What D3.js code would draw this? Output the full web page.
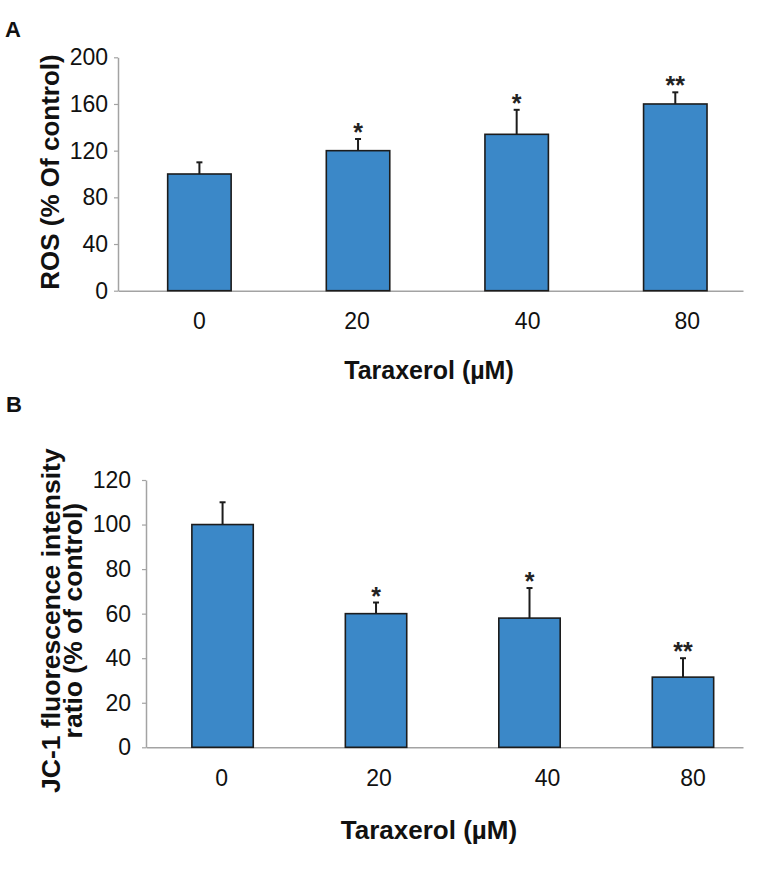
<!DOCTYPE html>
<html>
<head>
<meta charset="utf-8">
<script src="https://cdn.jsdelivr.net/npm/d3@7"></script>
<style>
  body { margin: 0; background: #fff; }
  svg { display: block; font-family: "Liberation Sans", Arial, sans-serif; }
</style>
</head>
<body>
<div id="chart"></div>
<script>
// Concentraciones (eje X)
const doses = ['0', '20', '40', '80'];

// Panel A - ROS
const rosMean = [100, 120, 134, 160];
const rosErr = [10, 10, 21, 10];
const rosSig = ['', '*', '*', '**'];
const rosTicks = [0, 40, 80, 120, 160, 200];

// Panel B - JC-1
const jcMean = [100, 60, 58, 31.5];
const jcErr = [10, 5, 13.5, 8.5];
const jcSig = ['', '*', '*', '**'];
const jcTicks = [0, 20, 40, 60, 80, 100, 120];

const BAR_FILL = '#3b88c8';
const INK = '#1c1c1c';
const AXIS = '#a3a3a3';

const svg = d3.select('#chart')
    .append('svg')
    .attr('width', 771)
    .attr('height', 888);

// Dibuja un panel
function drawPanel(cfg) {
    const g = svg.append('g');

    const x = d3.scaleBand()
        .domain(doses)
        .range([cfg.left, cfg.right])
        .paddingInner(0.6)
        .paddingOuter(cfg.outer)
        .align(cfg.align);

    const y = d3.scaleLinear()
        .domain([0, d3.max(cfg.ticks)])
        .range([cfg.bottom, cfg.top]);

    // eje Y
    const yAxis = g.append('g')
        .attr('transform', `translate(${cfg.left},0)`)
        .call(d3.axisLeft(y).tickValues(cfg.ticks).tickSize(4).tickSizeOuter(0).tickPadding(cfg.tickPad));
    yAxis.select('.domain').attr('stroke', AXIS).attr('stroke-width', 1.5);
    yAxis.selectAll('.tick line').attr('stroke', AXIS).attr('stroke-width', 1.2);
    yAxis.selectAll('.tick text')
        .attr('fill', '#111')
        .attr('font-size', 23)
        .attr('font-family', '"Liberation Sans", Arial, sans-serif');

    // eje X
    const xAxis = g.append('g')
        .attr('transform', `translate(0,${y(0)})`)
        .call(d3.axisBottom(x).tickSize(0).tickSizeOuter(0).tickPadding(cfg.xPad));
    xAxis.select('.domain').attr('stroke', AXIS).attr('stroke-width', 1.5);
    xAxis.selectAll('.tick text')
        .attr('fill', '#111')
        .attr('font-size', 23)
        .attr('font-family', '"Liberation Sans", Arial, sans-serif')
        .attr('x', (d, i) => cfg.nudge[i]);

    // barras de error (solo hacia arriba)
    const err = g.append('g')
        .selectAll('g')
        .data(doses)
        .join('g');
    err.append('line')
        .attr('x1', d => x(d) + x.bandwidth() / 2)
        .attr('x2', d => x(d) + x.bandwidth() / 2)
        .attr('y1', (d, i) => y(cfg.mean[i]))
        .attr('y2', (d, i) => y(cfg.mean[i] + cfg.err[i]))
        .attr('stroke', INK)
        .attr('stroke-width', 2);
    err.append('line')
        .attr('x1', d => x(d) + x.bandwidth() / 2 - 3)
        .attr('x2', d => x(d) + x.bandwidth() / 2 + 3)
        .attr('y1', (d, i) => y(cfg.mean[i] + cfg.err[i]))
        .attr('y2', (d, i) => y(cfg.mean[i] + cfg.err[i]))
        .attr('stroke', INK)
        .attr('stroke-width', 2);

    // barras
    g.append('g')
        .selectAll('rect')
        .data(doses)
        .join('rect')
        .attr('x', d => x(d))
        .attr('y', (d, i) => y(cfg.mean[i]))
        .attr('width', x.bandwidth())
        .attr('height', (d, i) => y(0) - y(cfg.mean[i]))
        .attr('fill', BAR_FILL)
        .attr('stroke', INK)
        .attr('stroke-width', 1.6);

    // asteriscos
    g.append('g')
        .selectAll('text')
        .data(doses)
        .join('text')
        .attr('x', d => x(d) + x.bandwidth() / 2)
        .attr('y', (d, i) => y(cfg.mean[i] + cfg.err[i]) + 2)
        .attr('text-anchor', 'middle')
        .attr('font-size', 25)
        .attr('font-weight', 'bold')
        .attr('fill', '#222')
        .text((d, i) => cfg.sig[i]);

    // titulo eje Y (rotado)
    const yTitle = g.append('text')
        .attr('transform', `translate(${cfg.yTitleX},${(cfg.top + cfg.bottom) / 2 + cfg.yTitleDy}) rotate(-90)`)
        .attr('text-anchor', 'middle')
        .attr('font-size', cfg.yTitleSize)
        .attr('font-weight', 'bold')
        .attr('fill', '#111');
    cfg.yTitle.forEach((t, i) => {
        yTitle.append('tspan')
            .attr('x', 0)
            .attr('dy', i === 0 ? 0 : cfg.yTitleGap)
            .text(t);
    });

    // titulo eje X
    g.append('text')
        .attr('x', cfg.xTitleX)
        .attr('y', cfg.xTitleY)
        .attr('text-anchor', 'middle')
        .attr('font-size', cfg.xTitleSize)
        .attr('font-weight', 'bold')
        .attr('fill', '#111')
        .text('Taraxerol (µM)');

    // letra del panel
    g.append('text')
        .attr('x', cfg.letterX)
        .attr('y', cfg.letterY)
        .attr('font-size', 22)
        .attr('font-weight', 'bold')
        .attr('fill', '#111')
        .text(cfg.letter);
}

drawPanel({
    letter: 'A', letterX: 5, letterY: 37,
    mean: rosMean, err: rosErr, sig: rosSig, ticks: rosTicks,
    left: 118, right: 743, top: 57.3, bottom: 290.7,
    outer: 0.27, align: 0.58,
    tickPad: 6, xPad: 22, nudge: [0, -1, 11, 12],
    yTitle: ['ROS (% Of control)'], yTitleX: 59, yTitleDy: -2, yTitleSize: 26, yTitleGap: 0,
    xTitleX: 429, xTitleY: 379, xTitleSize: 25
});

drawPanel({
    letter: 'B', letterX: 6, letterY: 412,
    mean: jcMean, err: jcErr, sig: jcSig, ticks: jcTicks,
    left: 146, right: 743, top: 480, bottom: 747.3,
    outer: 0.245, align: 0.61,
    tickPad: 11, xPad: 22, nudge: [-1, 3, 18, 10],
    yTitle: ['JC-1 fluorescence intensity', 'ratio (% of control)'], yTitleX: 60, yTitleDy: 7, yTitleSize: 26.5, yTitleGap: 22,
    xTitleX: 429, xTitleY: 839, xTitleSize: 26
});
</script>
</body>
</html>
